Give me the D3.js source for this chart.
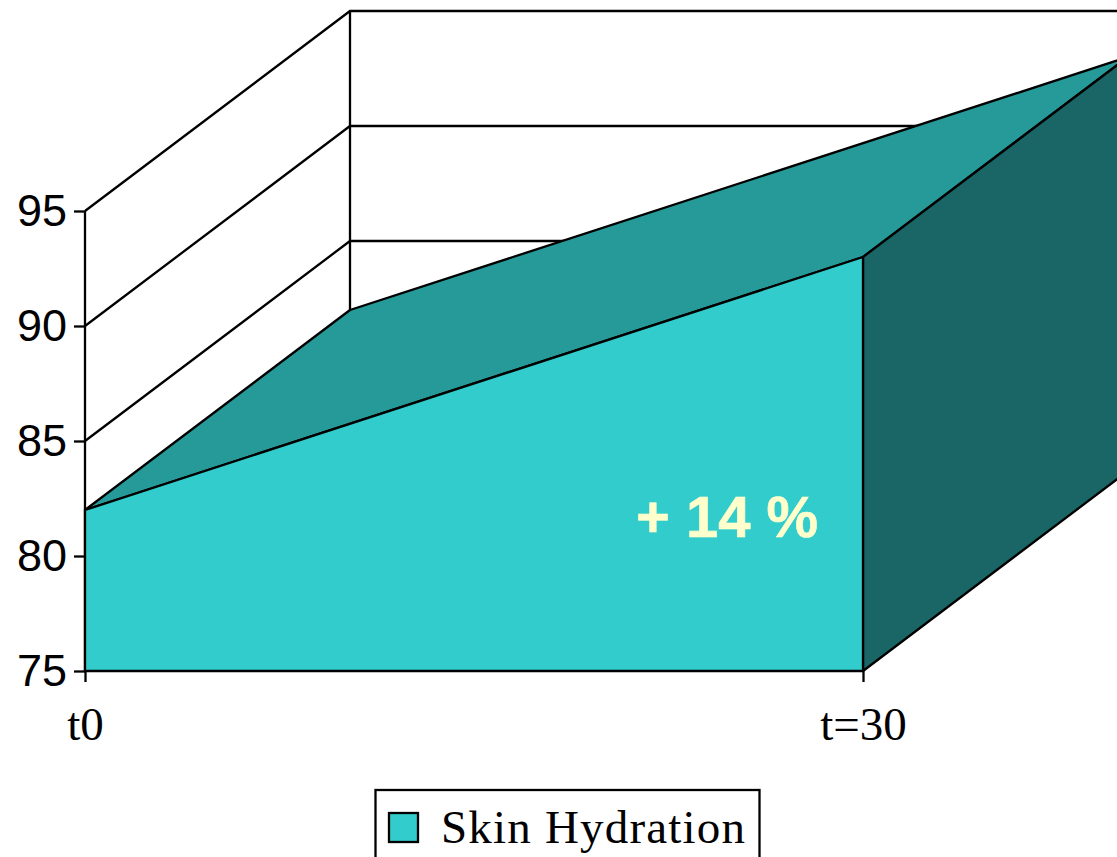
<!DOCTYPE html>
<html><head><meta charset="utf-8">
<script src="https://cdn.jsdelivr.net/npm/d3@7"></script>
<style>html,body{margin:0;padding:0;background:#fff;overflow:hidden}svg{display:block}</style>
</head><body><div id="c"></div>
<script>
const categories = ["t0", "t=30"];
const values = [82.0, 93.0];
const yTicks = [75, 80, 85, 90, 95];
const seriesName = "Skin Hydration";
const note = "+ 14 %";

const W = 1117, H = 857;
const depthX = 265, depthY = -200;
const colFront = "#33CCCC", colTop = "#269999", colSide = "#1A6666", ink = "#000";
const sw = 2.3;

const x = d3.scalePoint().domain(categories).range([85, 863]);
const y = d3.scaleLinear().domain([75, 95]).range([671, 211]);
const svg = d3.select("#c").append("svg").attr("width", W).attr("height", H).attr("viewBox", `0 0 ${W} ${H}`);
const line = d3.line();
const back = p => [p[0] + depthX, p[1] + depthY];
const stroke = (sel, w) => sel.attr("stroke", ink).attr("stroke-width", w).attr("fill", "none");

const x0 = x(categories[0]), x1 = x(categories[1]);
const yb = y(75), ytop = y(95);

// walls
stroke(svg.append("path").attr("d", line([[x0, ytop], [x0, yb]])), sw);
stroke(svg.append("path").attr("d", line([back([x0, ytop]), back([x0, yb])])), sw);
svg.selectAll(".grid").data(yTicks.slice(1)).join("path").attr("class", "grid")
  .attr("d", t => line([[x0, y(t)], back([x0, y(t)]), back([x1, y(t)])]))
  .call(stroke, sw);

// solid
const f0 = [x0, y(values[0])], f1 = [x1, y(values[1])];
svg.append("path").attr("d", line([f0, f1, back(f1), back(f0)]) + "Z").attr("fill", colTop).attr("stroke", ink).attr("stroke-width", sw).attr("stroke-linejoin", "round");
svg.append("path").attr("d", line([f1, [x1, yb], back([x1, yb]), back(f1)]) + "Z").attr("fill", colSide).attr("stroke", ink).attr("stroke-width", sw).attr("stroke-linejoin", "round");
svg.append("path").attr("d", line([f0, f1, [x1, yb], [x0, yb]]) + "Z").attr("fill", colFront).attr("stroke", ink).attr("stroke-width", sw).attr("stroke-linejoin", "round");

// axes
const yAxis = svg.append("g").attr("transform", `translate(${x0},0)`).call(d3.axisLeft(y).tickValues(yTicks).tickSize(11).tickPadding(7));
yAxis.select(".domain").remove();
yAxis.selectAll("line").attr("stroke", ink).attr("stroke-width", sw);
yAxis.selectAll("text").attr("font-family", "'Liberation Sans'").attr("font-size", 45).attr("fill", ink).attr("dy", "0.32em");

const xAxis = svg.append("g").attr("transform", `translate(0,${yb})`).call(d3.axisBottom(x).tickSize(11).tickPadding(25));
xAxis.select(".domain").remove();
xAxis.selectAll("line").attr("stroke", ink).attr("stroke-width", sw);
xAxis.selectAll("text").attr("font-family", "'Liberation Serif'").attr("font-size", 47).attr("fill", ink);

// annotation
svg.append("text").attr("x", 727).attr("y", 537).attr("text-anchor", "middle")
  .attr("font-family", "'Liberation Sans'").attr("font-weight", "bold").attr("font-size", 58).attr("fill", "#FFFFCC").attr("stroke", "#FFFFCC").attr("stroke-width", 0.6).text(note);

// legend
svg.append("rect").attr("x", 375.5).attr("y", 790).attr("width", 384).attr("height", 90).attr("fill", "#fff").attr("stroke", ink).attr("stroke-width", sw);
svg.append("rect").attr("x", 389).attr("y", 813).attr("width", 29).attr("height", 29).attr("fill", colFront).attr("stroke", ink).attr("stroke-width", sw);
svg.append("text").attr("x", 441).attr("y", 843).attr("font-family", "'Liberation Serif'").attr("font-size", 47).attr("textLength", 304).attr("lengthAdjust", "spacing").attr("fill", ink).text(seriesName);
</script></body></html>
